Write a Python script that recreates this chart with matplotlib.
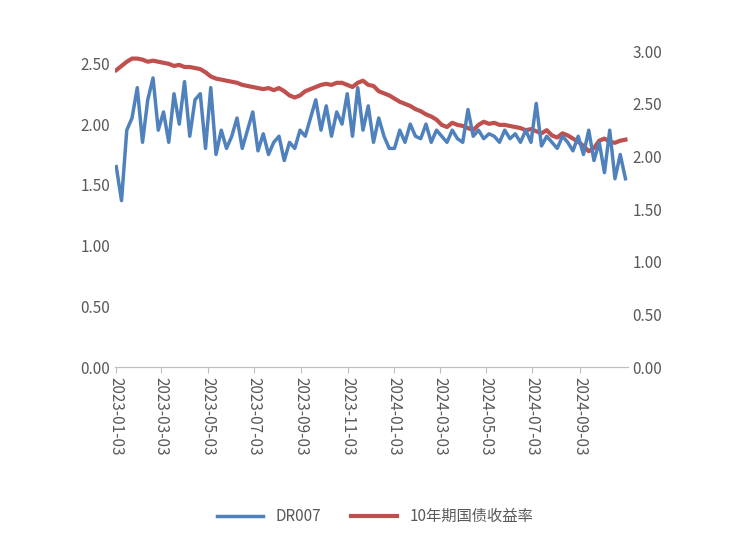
import numpy as np
import pandas as pd
import matplotlib.pyplot as plt
import matplotlib.dates as mdates
from matplotlib import font_manager

# pick up a CJK font file if the family name does not resolve
cjk = [f for f in font_manager.findSystemFonts() if "CJK" in f or "cjk" in f.lower()]
for f in cjk:
    font_manager.fontManager.addfont(f)
names = sorted({font_manager.FontProperties(fname=f).get_name() for f in cjk})
plt.rcParams["font.family"] = "sans-serif"
plt.rcParams["font.sans-serif"] = names + ["Noto Sans CJK SC", "DejaVu Sans"]

# --- Data (weekly readings) ---
dr007 = [1.65, 1.37, 1.95, 2.05, 2.30,
         1.85, 2.20, 2.38, 1.95,
         2.10, 1.85, 2.25, 2.00, 2.35,
         1.90, 2.20, 2.25, 1.80,
         2.30, 1.75, 1.95, 1.80, 1.90,
         2.05, 1.80, 1.95, 2.10,
         1.78, 1.92, 1.75, 1.85, 1.90,
         1.70, 1.85, 1.80, 1.95,
         1.90, 2.05, 2.20, 1.95,
         2.15, 1.90, 2.10, 2.00, 2.25,
         1.90, 2.30, 1.95, 2.15,
         1.85, 2.05, 1.90, 1.80,
         1.80, 1.95, 1.85, 2.00, 1.90,
         1.88, 2.00, 1.85, 1.95,
         1.90, 1.85, 1.95, 1.88,
         1.85, 2.12, 1.90, 1.95,
         1.88, 1.92, 1.90, 1.85, 1.95,
         1.88, 1.92, 1.85, 1.95,
         1.85, 2.17, 1.82, 1.90,
         1.85, 1.80, 1.90, 1.85, 1.78,
         1.90, 1.75, 1.95, 1.70,
         1.85, 1.60, 1.95, 1.55,
         1.75, 1.55]
cgb10y = [2.82, 2.86, 2.90, 2.93, 2.93,
          2.92, 2.90, 2.91, 2.90,
          2.89, 2.88, 2.86, 2.87, 2.85,
          2.85, 2.84, 2.83, 2.80,
          2.76, 2.74, 2.73, 2.72, 2.71,
          2.70, 2.68, 2.67, 2.66,
          2.65, 2.64, 2.65, 2.63, 2.65,
          2.62, 2.58, 2.56, 2.58,
          2.62, 2.64, 2.66, 2.68,
          2.69, 2.68, 2.70, 2.70, 2.68,
          2.66, 2.70, 2.72, 2.68,
          2.67, 2.62, 2.60, 2.58,
          2.55, 2.52, 2.50, 2.48, 2.45,
          2.43, 2.40, 2.38, 2.35,
          2.30, 2.28, 2.32, 2.30,
          2.29, 2.27, 2.25, 2.30,
          2.33, 2.31, 2.32, 2.30, 2.30,
          2.29, 2.28, 2.27, 2.25,
          2.26, 2.24, 2.22, 2.25,
          2.20, 2.18, 2.22, 2.20, 2.17,
          2.14, 2.10, 2.05, 2.08,
          2.15, 2.17, 2.14, 2.13,
          2.15, 2.16]
dates = pd.date_range("2023-01-03", periods=len(dr007), freq="6.9D")
tick_dates = pd.to_datetime(["2023-01-03", "2023-03-03", "2023-05-03", "2023-07-03",
                             "2023-09-03", "2023-11-03", "2024-01-03", "2024-03-03",
                             "2024-05-03", "2024-07-03", "2024-09-03"])

blue, red = "#4F81BD", "#C0504D"

fig = plt.figure(figsize=(7.5, 5.39), dpi=100)
ax = fig.add_axes([0.153, 0.319, 0.684, 0.586])
ax2 = ax.twinx()

l1, = ax.plot(dates, dr007, color=blue, lw=2.5, label="DR007")
l2, = ax2.plot(dates, cgb10y, color=red, lw=3, label="10年期国债收益率")
ax.set_zorder(ax2.get_zorder() + 1)
ax.patch.set_visible(False)

ax.set_ylim(0, 2.6)
ax.set_yticks(np.arange(0, 2.51, 0.5))
ax2.set_ylim(0, 3.0)
ax2.set_yticks(np.arange(0, 3.01, 0.5))
ax.yaxis.set_major_formatter(plt.FormatStrFormatter("%.2f"))
ax2.yaxis.set_major_formatter(plt.FormatStrFormatter("%.2f"))

ax.set_xlim(pd.Timestamp("2023-01-01"), dates[-1] + pd.Timedelta(days=3))
ax.set_xticks(tick_dates)
ax.xaxis.set_major_formatter(mdates.DateFormatter("%Y-%m-%d"))
for lab in ax.get_xticklabels():
    lab.set_rotation(-90)

for a in (ax, ax2):
    for s in ("top", "left", "right"):
        a.spines[s].set_visible(False)
    a.spines["bottom"].set_color("#bfbfbf")
    a.tick_params(axis="y", length=0, labelsize=11, colors="#595959")
    a.tick_params(axis="x", labelsize=11, colors="#595959", length=4)
ax.tick_params(axis="x", color="#bfbfbf")

fig.legend(handles=[l1, l2], loc="lower center", bbox_to_anchor=(0.5, 0.0),
           ncol=2, frameon=False, fontsize=11, handlelength=3, labelcolor="#595959")

plt.savefig("out.png", dpi=100)
